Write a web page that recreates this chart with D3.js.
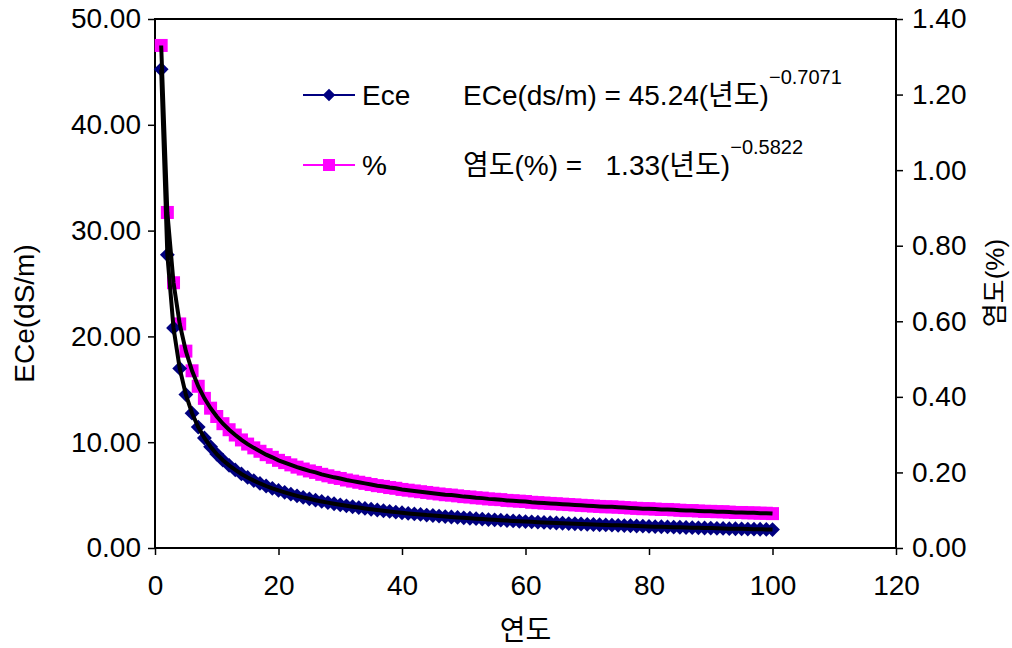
<!DOCTYPE html>
<html lang="ko">
  <head>
      <meta charset="utf-8">
      <title>ECe and salinity by year</title>
      <script type="text/javascript" src="https://d3js.org/d3.v7.min.js"></script>
      <style>
        body { margin: 0; background: #fff; }
        text { font-family: "Liberation Sans Narrow", "Liberation Sans", "Noto Sans CJK KR", sans-serif; fill: #000; }
        .tick text { font-size: 28px; }
        .kor { font-family: "Liberation Sans", "Noto Sans CJK KR", sans-serif; }
      </style>
  </head>
  <body>

    <svg id="chart"></svg>

    <script type="text/javascript">

    // DATA (years 1..100)
    const years = d3.range(1, 101);

    const ece = [
      45.24, 27.71, 20.80, 16.97, 14.50, 12.74, 11.43, 10.40, 9.57, 8.88,
      8.30, 7.81, 7.38, 7.00, 6.67, 6.37, 6.10, 5.86, 5.64, 5.44,
      5.26, 5.09, 4.93, 4.78, 4.65, 4.52, 4.40, 4.29, 4.18, 4.08,
      3.99, 3.90, 3.82, 3.74, 3.66, 3.59, 3.52, 3.46, 3.39, 3.33,
      3.27, 3.22, 3.17, 3.11, 3.07, 3.02, 2.97, 2.93, 2.89, 2.85,
      2.81, 2.77, 2.73, 2.69, 2.66, 2.63, 2.59, 2.56, 2.53, 2.50,
      2.47, 2.44, 2.42, 2.39, 2.36, 2.34, 2.31, 2.29, 2.27, 2.24,
      2.22, 2.20, 2.18, 2.16, 2.14, 2.12, 2.10, 2.08, 2.06, 2.04,
      2.02, 2.01, 1.99, 1.97, 1.96, 1.94, 1.92, 1.91, 1.89, 1.88,
      1.86, 1.85, 1.83, 1.82, 1.81, 1.79, 1.78, 1.77, 1.76, 1.74
    ];

    const salt = [
      1.330, 0.888, 0.702, 0.593, 0.521, 0.469, 0.428, 0.396, 0.370, 0.348,
      0.329, 0.313, 0.299, 0.286, 0.275, 0.265, 0.256, 0.247, 0.240, 0.232,
      0.226, 0.220, 0.214, 0.209, 0.204, 0.200, 0.195, 0.191, 0.187, 0.184,
      0.180, 0.177, 0.174, 0.171, 0.168, 0.165, 0.163, 0.160, 0.158, 0.155,
      0.153, 0.151, 0.149, 0.147, 0.145, 0.143, 0.141, 0.140, 0.138, 0.136,
      0.135, 0.133, 0.132, 0.130, 0.129, 0.128, 0.126, 0.125, 0.124, 0.123,
      0.121, 0.120, 0.119, 0.118, 0.117, 0.116, 0.115, 0.114, 0.113, 0.112,
      0.111, 0.110, 0.109, 0.109, 0.108, 0.107, 0.106, 0.105, 0.104, 0.104,
      0.103, 0.102, 0.102, 0.101, 0.100, 0.099, 0.099, 0.098, 0.097, 0.097,
      0.096, 0.096, 0.095, 0.094, 0.094, 0.093, 0.093, 0.092, 0.092, 0.091
    ];

    const xTicks = [0, 20, 40, 60, 80, 100, 120];
    const leftTicks = [0, 10, 20, 30, 40, 50];
    const rightTicks = [0, 0.2, 0.4, 0.6, 0.8, 1.0, 1.2, 1.4];


    // DIMENSIONS

    const width = 1012;
    const height = 648;

    const margin = {
      top: 19,
      right: 116,
      bottom: 100,
      left: 155
    };

    const plot = {
      w: width - margin.left - margin.right,
      h: height - margin.top - margin.bottom
    };

    const svg = d3.select('#chart')
      .attr('width', width)
      .attr('height', height);

    const x = d3.scaleLinear().domain([0, 120]).range([margin.left, margin.left + plot.w]);
    const yL = d3.scaleLinear().domain([0, 50]).range([margin.top + plot.h, margin.top]);
    const yR = d3.scaleLinear().domain([0, 1.4]).range([margin.top + plot.h, margin.top]);


    // AXES

    svg.append('g')
      .attr('transform', `translate(0,${margin.top + plot.h})`)
      .call(d3.axisBottom(x).tickValues(xTicks).tickSize(7).tickSizeOuter(0).tickPadding(20));

    svg.append('g')
      .attr('transform', `translate(${margin.left},0)`)
      .call(d3.axisLeft(yL).tickValues(leftTicks).tickFormat(d3.format('.2f')).tickSize(7).tickSizeOuter(0).tickPadding(7));

    svg.append('g')
      .attr('transform', `translate(${margin.left + plot.w},0)`)
      .call(d3.axisRight(yR).tickValues(rightTicks).tickFormat(d3.format('.2f')).tickSize(7).tickSizeOuter(0).tickPadding(9));

    svg.selectAll('.domain').remove();
    svg.selectAll('.tick line').attr('stroke', '#000').attr('stroke-width', 1.5);

    // plot border
    svg.append('rect')
      .attr('x', margin.left)
      .attr('y', margin.top)
      .attr('width', plot.w)
      .attr('height', plot.h)
      .attr('fill', 'none')
      .attr('stroke', '#000')
      .attr('stroke-width', 2);


    // SERIES

    const eceData = years.map((d, i) => ({yr: d, v: ece[i]}));
    const saltData = years.map((d, i) => ({yr: d, v: salt[i]}));

    svg.append('g')
      .selectAll('rect')
      .data(saltData)
      .join('rect')
      .attr('x', d => x(d.yr) - 6.5)
      .attr('y', d => yR(d.v) - 6.5)
      .attr('width', 13)
      .attr('height', 13)
      .attr('fill', '#ff00ff');

    svg.append('g')
      .selectAll('path')
      .data(eceData)
      .join('path')
      .attr('d', d3.symbol(d3.symbolDiamond2, 140))
      .attr('transform', d => `translate(${x(d.yr)},${yL(d.v)})`)
      .attr('fill', '#000080');

    svg.append('path')
      .datum(saltData)
      .attr('fill', 'none')
      .attr('stroke', '#000')
      .attr('stroke-width', 4)
      .attr('d', d3.line().x(d => x(d.yr)).y(d => yR(d.v)));

    svg.append('path')
      .datum(eceData)
      .attr('fill', 'none')
      .attr('stroke', '#000')
      .attr('stroke-width', 4)
      .attr('d', d3.line().x(d => x(d.yr)).y(d => yL(d.v)));


    // LEGEND + EQUATIONS

    const legend = svg.append('g');

    legend.append('line')
      .attr('x1', 303).attr('x2', 355).attr('y1', 95).attr('y2', 95)
      .attr('stroke', '#000080').attr('stroke-width', 2);
    legend.append('path')
      .attr('d', d3.symbol(d3.symbolDiamond2, 100))
      .attr('transform', 'translate(329,95)')
      .attr('fill', '#000080');
    legend.append('text')
      .text('Ece')
      .attr('x', 362).attr('y', 105)
      .style('font-size', '28px');

    legend.append('line')
      .attr('x1', 303).attr('x2', 355).attr('y1', 165).attr('y2', 165)
      .attr('stroke', '#ff00ff').attr('stroke-width', 2);
    legend.append('rect')
      .attr('x', 323).attr('y', 159).attr('width', 12).attr('height', 12)
      .attr('fill', '#ff00ff');
    legend.append('text')
      .text('%')
      .attr('x', 362).attr('y', 175)
      .style('font-size', '28px');

    const eq1 = svg.append('text')
      .attr('x', 463).attr('y', 105)
      .style('font-size', '28px');
    eq1.append('tspan').text('ECe(ds/m) = 45.24(년도)');
    eq1.append('tspan').text('−0.7071').attr('dy', -21).style('font-size', '20px');

    const eq2 = svg.append('text')
      .attr('x', 463).attr('y', 175)
      .style('font-size', '28px')
      .attr('xml:space', 'preserve');
    eq2.append('tspan').text('염도(%) =   1.33(년도)');
    eq2.append('tspan').text('−0.5822').attr('dy', -21).style('font-size', '20px');


    // AXIS TITLES

    svg.append('text')
      .text('연도')
      .attr('class', 'kor')
      .attr('x', margin.left + plot.w / 2)
      .attr('y', 640)
      .attr('text-anchor', 'middle')
      .style('font-size', '28px');

    svg.append('text')
      .text('ECe(dS/m)')
      .attr('transform', `translate(34,${margin.top + plot.h / 2 + 30}) rotate(-90)`)
      .attr('text-anchor', 'middle')
      .style('font-size', '28px');

    svg.append('text')
      .text('염도(%)')
      .attr('transform', `translate(1004,283) rotate(-90)`)
      .attr('text-anchor', 'middle')
      .style('font-size', '26px');

    </script>
  </body>
</html>
